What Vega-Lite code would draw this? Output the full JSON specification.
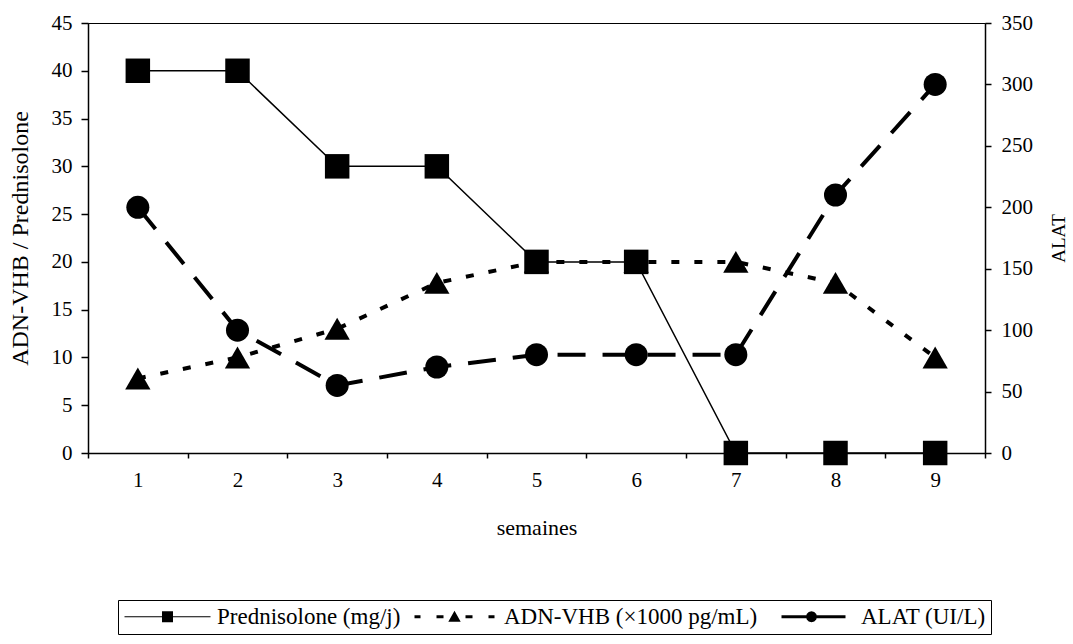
{
  "$schema": "https://vega.github.io/schema/vega-lite/v6.json",
  "width": 897,
  "height": 430,
  "autosize": {"type": "none"},
  "padding": {"left": 88, "top": 23, "right": 88, "bottom": 191},
  "background": "white",
  "config": {
    "font": "Liberation Serif",
    "view": {"stroke": "black", "strokeWidth": 1},
    "axis": {
      "labelFont": "Liberation Serif",
      "titleFont": "Liberation Serif",
      "labelFontSize": 21,
      "titleFontSize": 22,
      "titleFontWeight": "normal",
      "labelColor": "black",
      "titleColor": "black",
      "domainColor": "black",
      "domainWidth": 1.5,
      "tickColor": "black",
      "tickWidth": 1.5,
      "grid": false,
      "tickSize": 6
    }
  },
  "data": {
    "values": [
      {"semaine": 1, "serie": "Prednisolone (mg/j)", "valeur": 40},
      {"semaine": 2, "serie": "Prednisolone (mg/j)", "valeur": 40},
      {"semaine": 3, "serie": "Prednisolone (mg/j)", "valeur": 30},
      {"semaine": 4, "serie": "Prednisolone (mg/j)", "valeur": 30},
      {"semaine": 5, "serie": "Prednisolone (mg/j)", "valeur": 20},
      {"semaine": 6, "serie": "Prednisolone (mg/j)", "valeur": 20},
      {"semaine": 7, "serie": "Prednisolone (mg/j)", "valeur": 0},
      {"semaine": 8, "serie": "Prednisolone (mg/j)", "valeur": 0},
      {"semaine": 9, "serie": "Prednisolone (mg/j)", "valeur": 0},
      {"semaine": 1, "serie": "ADN-VHB (×1000 pg/mL)", "valeur": 7.8},
      {"semaine": 2, "serie": "ADN-VHB (×1000 pg/mL)", "valeur": 10},
      {"semaine": 3, "serie": "ADN-VHB (×1000 pg/mL)", "valeur": 13},
      {"semaine": 4, "serie": "ADN-VHB (×1000 pg/mL)", "valeur": 17.8},
      {"semaine": 5, "serie": "ADN-VHB (×1000 pg/mL)", "valeur": 20},
      {"semaine": 6, "serie": "ADN-VHB (×1000 pg/mL)", "valeur": 20},
      {"semaine": 7, "serie": "ADN-VHB (×1000 pg/mL)", "valeur": 20},
      {"semaine": 8, "serie": "ADN-VHB (×1000 pg/mL)", "valeur": 17.8},
      {"semaine": 9, "serie": "ADN-VHB (×1000 pg/mL)", "valeur": 10},
      {"semaine": 1, "serie": "ALAT (UI/L)", "valeur": 200},
      {"semaine": 2, "serie": "ALAT (UI/L)", "valeur": 100},
      {"semaine": 3, "serie": "ALAT (UI/L)", "valeur": 55},
      {"semaine": 4, "serie": "ALAT (UI/L)", "valeur": 70},
      {"semaine": 5, "serie": "ALAT (UI/L)", "valeur": 80},
      {"semaine": 6, "serie": "ALAT (UI/L)", "valeur": 80},
      {"semaine": 7, "serie": "ALAT (UI/L)", "valeur": 80},
      {"semaine": 8, "serie": "ALAT (UI/L)", "valeur": 210},
      {"semaine": 9, "serie": "ALAT (UI/L)", "valeur": 300}
    ]
  },
  "encoding": {
    "x": {
      "field": "semaine",
      "type": "ordinal",
      "scale": {"type": "band", "paddingInner": 0, "paddingOuter": 0},
      "axis": {
        "title": "semaines",
        "labelAngle": 0,
        "tickBand": "extent",
        "tickSize": 5,
        "labelPadding": 11,
        "titlePadding": 27
      }
    }
  },
  "layer": [
    {
      "encoding": {
        "y": {
          "field": "valeur",
          "type": "quantitative",
          "scale": {"domain": [0, 45], "nice": false, "zero": true},
          "axis": {
            "title": "ADN-VHB / Prednisolone",
            "titleFontSize": 24,
            "values": [0, 5, 10, 15, 20, 25, 30, 35, 40, 45],
            "tickSize": 7,
            "labelPadding": 9,
            "titlePadding": 19
          }
        }
      },
      "layer": [
        {
          "transform": [{"filter": {"field": "serie", "equal": "Prednisolone (mg/j)"}}],
          "mark": {"type": "line", "color": "black", "strokeWidth": 1.5}
        },
        {
          "transform": [{"filter": {"field": "serie", "equal": "Prednisolone (mg/j)"}}],
          "mark": {"type": "point", "shape": "square", "filled": true, "color": "black", "size": 600, "opacity": 1}
        },
        {
          "transform": [{"filter": {"field": "serie", "equal": "ADN-VHB (×1000 pg/mL)"}}],
          "mark": {"type": "line", "color": "black", "strokeWidth": 4, "strokeDash": [8, 15]}
        },
        {
          "transform": [{"filter": {"field": "serie", "equal": "ADN-VHB (×1000 pg/mL)"}}],
          "mark": {"type": "point", "shape": "triangle-up", "filled": true, "color": "black", "size": 640, "opacity": 1}
        },
        {
          "transform": [{"filter": {"field": "serie", "equal": "ALAT (UI/L)"}}],
          "mark": {"type": "point", "filled": true, "color": "black", "clip": true, "opacity": 1},
          "encoding": {
            "shape": {
              "field": "serie",
              "type": "nominal",
              "scale": {
                "domain": ["Prednisolone (mg/j)", "ADN-VHB (×1000 pg/mL)", "ALAT (UI/L)"],
                "range": [
                  "M-1,-0.06H7.6V0.06H-1ZM2.75,-0.55H3.85V0.55H2.75Z",
                  "M-0.7,-0.15H-0.1V0.15H-0.7ZM1.5,-0.15H2.2V0.15H1.5ZM4.4,-0.15H5.1V0.15H4.4ZM6.7,-0.15H7.3V0.15H6.7ZM3.3,-0.6L3.92,0.5H2.68Z",
                  "M0.3,-0.15H2.8V0.15H0.3ZM3.8,-0.15H6.7V0.15H3.8ZM3.85,0L3.776,0.275L3.575,0.476L3.3,0.55L3.025,0.476L2.824,0.275L2.75,0L2.824,-0.275L3.025,-0.476L3.3,-0.55L3.575,-0.476L3.776,-0.275Z"
                ]
              },
              "legend": {
                "title": null,
                "orient": "none",
                "legendX": 30,
                "legendY": 577,
                "direction": "horizontal",
                "columns": 3,
                "strokeColor": "black",
                "padding": 5,
                "labelFont": "Liberation Serif",
                "labelFontSize": 23,
                "labelColor": "black",
                "labelLimit": 0,
                "symbolSize": 400,
                "symbolStrokeColor": "black",
                "symbolStrokeWidth": 1,
                "labelOffset": 71,
                "columnPadding": 9
              }
            }
          }
        }
      ]
    },
    {
      "transform": [{"filter": {"field": "serie", "equal": "ALAT (UI/L)"}}],
      "encoding": {
        "y": {
          "field": "valeur",
          "type": "quantitative",
          "scale": {"domain": [0, 350], "nice": false, "zero": true},
          "axis": {
            "orient": "right",
            "title": "ALAT",
            "titleAngle": -90,
            "titleFontSize": 19,
            "values": [0, 50, 100, 150, 200, 250, 300, 350],
            "tickSize": 6,
            "labelPadding": 10,
            "titlePadding": 36
          }
        }
      },
      "layer": [
        {"mark": {"type": "line", "color": "black", "strokeWidth": 4, "strokeDash": [28, 17]}},
        {"mark": {"type": "point", "shape": "circle", "filled": true, "color": "black", "size": 530, "opacity": 1}}
      ]
    }
  ],
  "resolve": {"scale": {"y": "independent"}}
}
